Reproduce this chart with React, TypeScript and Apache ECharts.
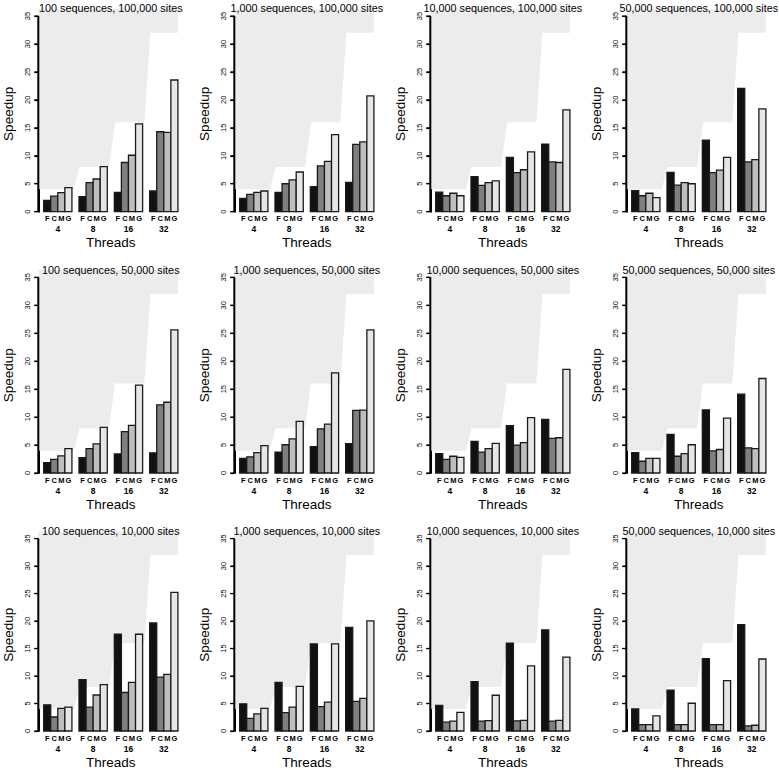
import React, { useEffect, useRef } from "react";
import * as echarts from "echarts";

const THREADS = ["4", "8", "16", "32"];
const METHODS = ["F", "C", "M", "G"];
const METHOD_COLORS = ["#111111", "#7f7f7f", "#bebebe", "#e6e6e6"];
const IDEAL_SPEEDUP = [4, 8, 16, 32];
const Y_TICKS = [0, 5, 10, 15, 20, 25, 30, 35];

const PANEL_TITLES = [
  "100 sequences, 100,000 sites",
  "1,000 sequences, 100,000 sites",
  "10,000 sequences, 100,000 sites",
  "50,000 sequences, 100,000 sites",
  "100 sequences, 50,000 sites",
  "1,000 sequences, 50,000 sites",
  "10,000 sequences, 50,000 sites",
  "50,000 sequences, 50,000 sites",
  "100 sequences, 10,000 sites",
  "1,000 sequences, 10,000 sites",
  "10,000 sequences, 10,000 sites",
  "50,000 sequences, 10,000 sites",
];

// each row: one thread group (4, 8, 16, 32); columns: F, C, M, G
const seq100_sites100k = [[2.0, 2.8, 3.4, 4.3], [2.7, 5.2, 5.85, 8.05], [3.45, 8.8, 10.1, 15.7], [3.7, 14.3, 14.2, 23.55]];
const seq1k_sites100k = [[2.4, 3.1, 3.45, 3.7], [3.45, 5.0, 5.7, 7.1], [4.5, 8.2, 9.0, 13.8], [5.25, 12.05, 12.5, 20.7]];
const seq10k_sites100k = [[3.5, 2.85, 3.3, 2.85], [6.25, 4.7, 5.2, 5.5], [9.7, 7.0, 7.5, 10.7], [12.1, 8.9, 8.8, 18.2]];
const seq50k_sites100k = [[3.75, 2.85, 3.3, 2.5], [7.05, 4.75, 5.2, 5.0], [12.8, 7.0, 7.45, 9.7], [22.05, 8.9, 9.3, 18.4]];
const seq100_sites50k = [[1.85, 2.45, 3.05, 4.35], [2.75, 4.35, 5.2, 8.15], [3.4, 7.4, 8.5, 15.7], [3.6, 12.2, 12.65, 25.6]];
const seq1k_sites50k = [[2.6, 2.9, 3.65, 4.9], [3.75, 5.05, 6.1, 9.25], [4.7, 7.9, 8.75, 17.9], [5.25, 11.2, 11.25, 25.6]];
const seq10k_sites50k = [[3.45, 2.45, 3.0, 2.8], [5.65, 3.75, 4.35, 5.3], [8.45, 5.0, 5.45, 9.9], [9.6, 6.2, 6.3, 18.55]];
const seq50k_sites50k = [[3.65, 2.1, 2.6, 2.6], [6.9, 3.0, 3.45, 5.05], [11.3, 3.95, 4.2, 9.8], [14.1, 4.5, 4.35, 16.9]];
const seq100_sites10k = [[4.75, 2.55, 4.1, 4.35], [9.35, 4.35, 6.55, 8.45], [17.6, 7.0, 8.85, 17.6], [19.65, 9.8, 10.3, 25.2]];
const seq1k_sites10k = [[4.95, 2.3, 3.1, 4.1], [8.85, 3.35, 4.35, 8.1], [15.85, 4.45, 5.25, 15.85], [18.85, 5.4, 5.95, 20.05]];
const seq10k_sites10k = [[4.65, 1.6, 1.8, 3.4], [9.0, 1.8, 1.9, 6.5], [16.0, 1.85, 1.95, 11.85], [18.4, 1.8, 1.95, 13.45]];
const seq50k_sites10k = [[4.0, 1.15, 1.15, 2.75], [7.45, 1.15, 1.15, 5.05], [13.15, 1.15, 1.15, 9.15], [19.35, 0.95, 1.05, 13.1]];

const PANEL_DATA = [
  seq100_sites100k, seq1k_sites100k, seq10k_sites100k, seq50k_sites100k,
  seq100_sites50k, seq1k_sites50k, seq10k_sites50k, seq50k_sites50k,
  seq100_sites10k, seq1k_sites10k, seq10k_sites10k, seq50k_sites10k,
];

const FONT = "Liberation Sans, Arial, Helvetica, sans-serif";
const X_MIN = 0.24;
const X_MAX = 20.76;
const Y_TOP_FILL = 36.3;

function idealOutline(): number[][] {
  const pts: number[][] = [[X_MIN, Y_TOP_FILL], [20, Y_TOP_FILL]];
  for (let g = IDEAL_SPEEDUP.length - 1; g >= 0; g--) {
    const right = g === IDEAL_SPEEDUP.length - 1 ? 20 : 5 * g + 5.25;
    const left = g === 0 ? X_MIN : 5 * g + 1.1;
    pts.push([right, IDEAL_SPEEDUP[g]]);
    pts.push([left, IDEAL_SPEEDUP[g]]);
  }
  return pts;
}

export default function App() {
  const ref = useRef<HTMLDivElement>(null);
  useEffect(() => {
    if (!ref.current) return;
    const chart = echarts.init(ref.current, null, { renderer: "svg" });
    const grids: any[] = [];
    const xAxes: any[] = [];
    const yAxes: any[] = [];
    const series: any[] = [];
    const graphics: any[] = [];
    const outline = idealOutline();
    const barCenters: number[] = [];
    for (let g = 0; g < 4; g++) for (let b = 0; b < 4; b++) barCenters.push(5 * g + 1.5 + b);
    const groupCenters = THREADS.map((_, g) => 5 * g + 3);

    PANEL_DATA.forEach((panel, i) => {
      const r = Math.floor(i / 4);
      const c = i % 4;
      const left = 196 * c + 38.3;
      const top = 16 + 261.3 * r;
      const width = 145;
      const height = 195.7;
      grids.push({ left, top, width, height });
      xAxes.push({
        type: "value",
        gridIndex: i,
        position: "bottom",
        min: X_MIN,
        max: X_MAX,
        axisLine: { show: false },
        axisTick: { show: false },
        splitLine: { show: false },
        axisLabel: {
          customValues: barCenters,
          formatter: (v: number) => {
            const g = Math.floor((v - 1) / 5);
            const b = Math.round(v - 1.5 - 5 * g);
            return METHODS[b] ?? "";
          },
          margin: 3,
          fontSize: 7.5,
          fontWeight: "bold",
          color: "#000",
          fontFamily: FONT,
        },
      });
      xAxes.push({
        type: "value",
        gridIndex: i,
        position: "bottom",
        min: X_MIN,
        max: X_MAX,
        axisLine: { show: false },
        axisTick: { show: false },
        splitLine: { show: false },
        axisLabel: {
          customValues: groupCenters,
          formatter: (v: number) => THREADS[Math.round((v - 3) / 5)] ?? "",
          margin: 13,
          fontSize: 8.5,
          fontWeight: "bold",
          color: "#000",
          fontFamily: FONT,
        },
        name: "Threads",
        nameLocation: "middle",
        nameGap: 24,
        nameTextStyle: { fontSize: 13.5, color: "#000", fontFamily: FONT },
      });
      yAxes.push({
        type: "value",
        gridIndex: i,
        position: "left",
        min: 0,
        max: 35,
        interval: 5,
        axisLine: { show: true, onZero: false, lineStyle: { color: "#000", width: 2 } },
        axisTick: { show: true, length: 4, lineStyle: { color: "#000", width: 1.2 } },
        splitLine: { show: false },
        axisLabel: {
          rotate: 90,
          margin: 7,
          fontSize: 7.5,
          color: "#000",
          fontFamily: FONT,
        },
        name: "Speedup",
        nameLocation: "middle",
        nameGap: 23,
        nameTextStyle: { fontSize: 13.5, color: "#000", fontFamily: FONT },
      });
      // ideal-speedup background region, then the y axis line on top of it
      series.push({
        type: "custom",
        xAxisIndex: 2 * i,
        yAxisIndex: i,
        z: 1,
        data: [[X_MIN, 0]],
        renderItem: (_p: any, api: any) => {
          const a = api.coord([X_MIN, Y_TICKS[0]]);
          const b = api.coord([X_MIN, Y_TICKS[Y_TICKS.length - 1]]);
          const children: any[] = [
            {
              type: "polygon",
              shape: { points: outline.map((pt) => api.coord(pt)) },
              style: { fill: "#ececec" },
            },
            {
              type: "line",
              shape: { x1: a[0], y1: a[1], x2: b[0], y2: b[1] },
              style: { stroke: "#000000", lineWidth: 2 },
            },
          ];
          Y_TICKS.forEach((t) => {
            const p = api.coord([X_MIN, t]);
            children.push({
              type: "line",
              shape: { x1: p[0] - 4, y1: p[1], x2: p[0], y2: p[1] },
              style: { stroke: "#000000", lineWidth: 1.2 },
            });
          });
          return { type: "group", children };
        },
      });
      const bars: number[][] = [];
      panel.forEach((group, g) => {
        group.forEach((v, m) => {
          bars.push([5 * g + 1 + m, v, m]);
        });
      });
      series.push({
        type: "custom",
        xAxisIndex: 2 * i,
        yAxisIndex: i,
        z: 2,
        encode: { x: 0, y: 1 },
        data: bars,
        renderItem: (_p: any, api: any) => {
          const x0 = api.value(0);
          const v = api.value(1);
          const m = api.value(2);
          const p0 = api.coord([x0, v]);
          const p1 = api.coord([x0 + 1, 0]);
          return {
            type: "rect",
            shape: { x: p0[0], y: p0[1], width: p1[0] - p0[0], height: p1[1] - p0[1] },
            style: { fill: METHOD_COLORS[m], stroke: "#1a1a1a", lineWidth: 1.3 },
          };
        },
      });
      graphics.push({
        type: "text",
        x: left + width / 2,
        y: top - 7.6,
        style: {
          text: PANEL_TITLES[i],
          align: "center",
          verticalAlign: "middle",
          fontSize: 10.8,
          fontFamily: FONT,
          fill: "#000",
        },
        z: 10,
      });
    });

    chart.setOption({
      animation: false,
      grid: grids,
      xAxis: xAxes,
      yAxis: yAxes,
      series,
      graphic: graphics,
    });
    return () => chart.dispose();
  }, []);
  return (
    <div
      ref={ref}
      style={{ position: "absolute", left: 0, top: 0, width: 779, height: 770 }}
    />
  );
}
